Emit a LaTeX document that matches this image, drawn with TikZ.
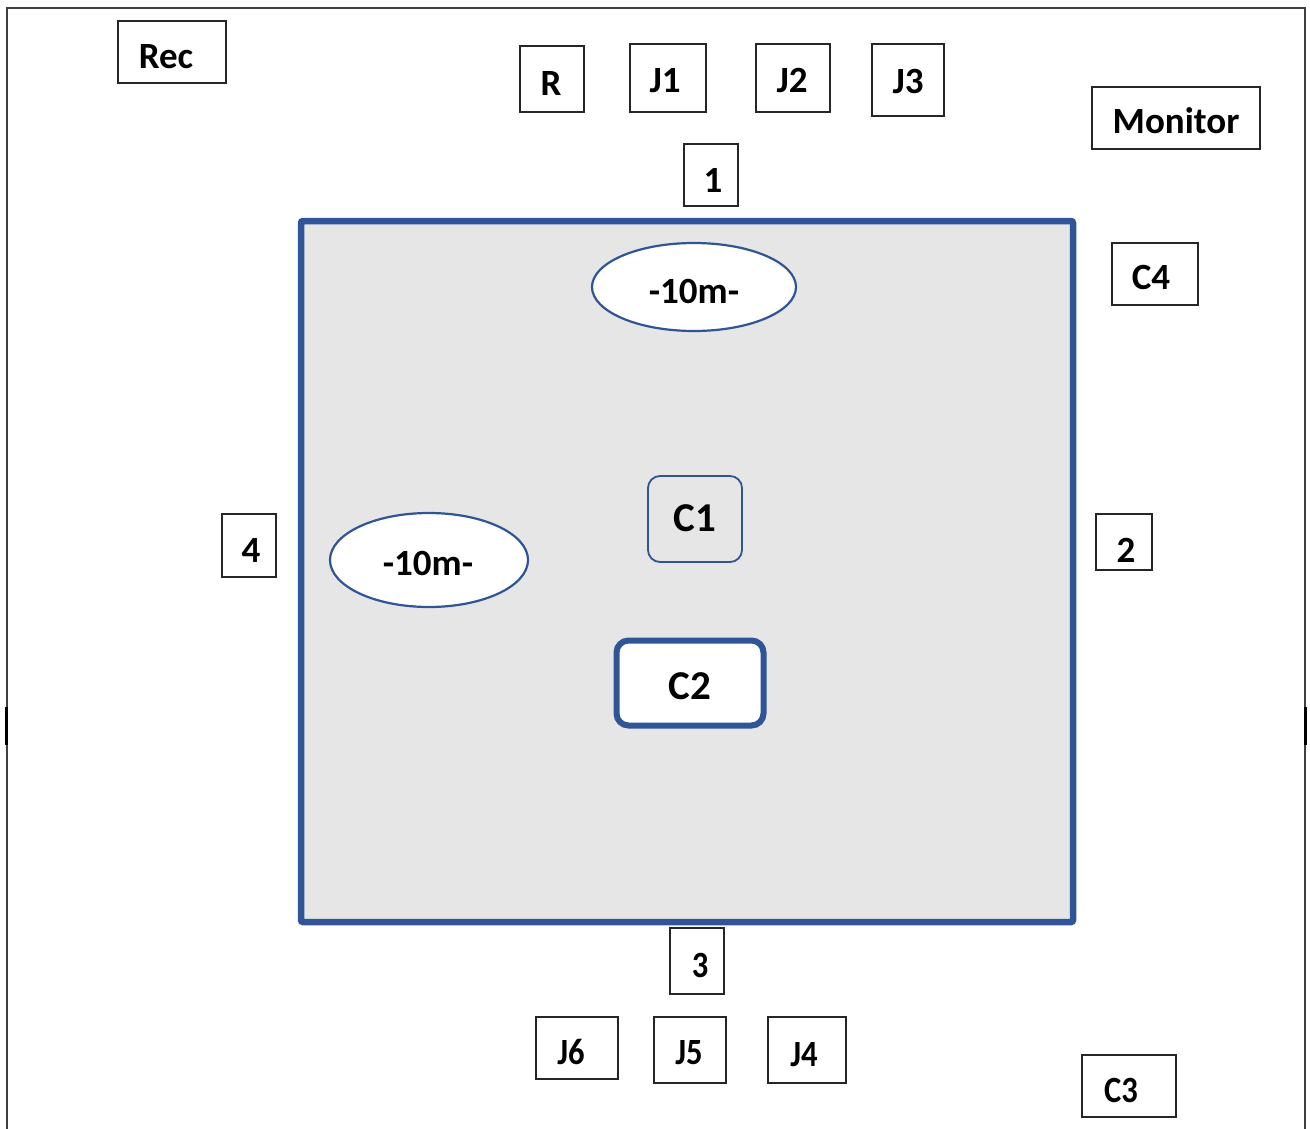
\documentclass[tikz,border=0pt]{standalone}
\usepackage{fontspec}
\setmainfont{Carlito}
\usetikzlibrary{shapes.geometric}
\definecolor{bl}{HTML}{2F5597}
\definecolor{fillg}{HTML}{E6E6E6}
\tikzset{
  lbl/.style={font=\fontsize{37}{42}\selectfont\bfseries},
  sbox/.style={draw=black!85, line width=1.1pt, fill=white, inner sep=0pt, lbl},
  ell/.style={ellipse, draw=bl, line width=2.2pt, fill=white, inner sep=0pt, lbl},
  cbox/.style={rounded corners=12pt, draw=bl, inner sep=0pt, font=\fontsize{41}{46}\selectfont\bfseries},
  narrow/.style={font=\fontsize{37}{42}\selectfont\bfseries}
}
% \tx{dx}{dy}{text}: text centred at (dx,dy) from the node centre (y downwards)
\newcommand{\tx}[3]{\raisebox{\dimexpr -0.32em - #2pt\relax}[0pt][0pt]{\makebox[0pt]{\hspace*{#1pt}\hspace*{#1pt}#3}}}
\newcommand{\nar}[1]{\scalebox{0.88}[1]{#1}}
\begin{document}
\begin{tikzpicture}[x=1pt,y=-1pt]
\useasboundingbox (0,0) rectangle (1310,1129);
% outer frame
\draw[black!75, line width=1.4pt] (7,1129) -- (7,8) -- (1305,8) -- (1305,1129);
\draw[black, line width=2.4pt] (6.5,707) -- (6.5,745);
\draw[black, line width=2.4pt] (1305.5,707) -- (1305.5,745);
% big room
\draw[bl, fill=fillg, line width=6.5pt, rounded corners=2pt] (301,221) rectangle (1073,922);
% small boxes
\node[sbox, minimum width=108pt, minimum height=62pt] (rec) at (172,52) {\tx{-6}{5}{Rec}};
\node[sbox, minimum width=64pt, minimum height=66pt] (r) at (552,79) {\tx{-1}{5}{R}};
\node[sbox, minimum width=76pt, minimum height=68pt] (j1) at (668,78) {\tx{-3}{3}{J1}};
\node[sbox, minimum width=74pt, minimum height=68pt] (j2) at (793,78) {\tx{-1}{3}{J2}};
\node[sbox, minimum width=72pt, minimum height=72pt] (j3) at (908,80) {\tx{0}{2}{J3}};
\node[sbox, minimum width=168pt, minimum height=62pt] (mon) at (1176,118) {\tx{0}{4}{Monitor}};
\node[sbox, minimum width=54pt, minimum height=62pt] (n1) at (711,175) {\tx{2}{6}{1}};
\node[sbox, minimum width=86pt, minimum height=62pt] (c4) at (1155,274) {\tx{-4}{4}{C4}};
\node[sbox, minimum width=54pt, minimum height=63pt] (n4) at (249,545.5) {\tx{2}{5.5}{4}};
\node[sbox, minimum width=56pt, minimum height=56pt] (n2) at (1124,542) {\tx{2}{9}{2}};
\node[sbox, narrow, minimum width=54pt, minimum height=66pt] (n3) at (697,961) {\tx{3}{5}{\nar{3}}};
\node[sbox, narrow, minimum width=82pt, minimum height=62pt] (j6) at (577,1048) {\tx{-6}{5}{\nar{J6}}};
\node[sbox, narrow, minimum width=72pt, minimum height=66pt] (j5) at (690,1050) {\tx{-1}{3}{\nar{J5}}};
\node[sbox, narrow, minimum width=78pt, minimum height=66pt] (j4) at (807,1050) {\tx{-3}{5}{\nar{J4}}};
\node[sbox, narrow, minimum width=94pt, minimum height=62pt] (c3) at (1129,1086) {\tx{-8}{5}{\nar{C3}}};
% ellipses
\node[ell, minimum width=204pt, minimum height=88pt] (e1) at (694,287) {\tx{0}{5}{-10m-}};
\node[ell, minimum width=198pt, minimum height=94pt] (e2) at (429,560) {\tx{-1}{4}{-10m-}};
% C1, C2
\node[cbox, line width=1.8pt, minimum width=94pt, minimum height=86pt] (c1) at (695,519) {\tx{0}{-1}{C1}};
\node[cbox, line width=6pt, fill=white, minimum width=147pt, minimum height=85pt] (c2) at (690,683) {\tx{0}{3}{C2}};
\end{tikzpicture}
\end{document}
